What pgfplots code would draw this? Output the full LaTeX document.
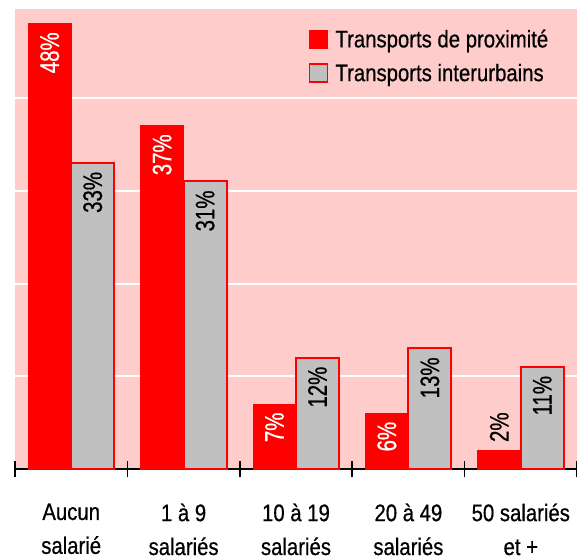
\documentclass[border=0pt]{standalone}
\usepackage{pgfplots}
\pgfplotsset{compat=1.18}
\usepackage{pgfplotstable}
\usepackage{fontspec}
\setmainfont{Liberation Sans}[FakeStretch=0.85, FakeBold=0.6]
\newfontfamily\labfont{Liberation Sans}[FakeStretch=0.76, FakeBold=0.6]

\definecolor{fond}{HTML}{FFCCCC}
\definecolor{rouge}{HTML}{FF0000}
\definecolor{gris}{HTML}{C0C0C0}

% part des entreprises par taille
\pgfplotstableread{
x y
0 48
1 37
2 7
3 6
4 2
}\proxi
\pgfplotstableread{
x y
0 33
1 31
2 12
3 13
4 11
}\inter

\begin{document}
\begin{tikzpicture}
\begin{axis}[
    scale only axis,
    width=562bp, height=460bp,
    xmin=-0.5, xmax=4.5,
    ymin=0, ymax=49.6,
    ybar=0pt, bar width=43bp,
    axis background/.style={fill=fond},
    axis x line*=bottom, axis y line*=left,
    y axis line style={draw=none},
    x axis line style={line width=1.6bp, -},
    ytick={10,20,30,40}, yticklabels={},
    ytick style={draw=none},
    ymajorgrids, grid style={white, line width=2bp},
    xtick={0,...,4},
    major tick length=0pt,
    minor xtick={-0.5,0.5,1.5,2.5,3.5,4.5},
    minor tick length=16bp, tick align=center,
    minor x tick style={black, line width=1.6bp},
    xticklabels={{Aucun\\salarié},{1 à 9\\salariés},{10 à 19\\salariés},{20 à 49\\salariés},{50 salariés\\et +}},
    xticklabel style={align=center, font=\fontsize{24}{34}\selectfont, yshift=-31bp},
    /pgf/number format/assume math mode=true,
    legend style={at={(0.517,0.964)}, anchor=north west, draw=none, fill=none,
        font=\fontsize{24}{26}\selectfont, row sep=11bp, cells={anchor=west}},
    legend cell align=left,
    legend image code/.code={\draw[#1, line width=1.5bp] (0bp,-9bp) rectangle (18bp,9bp); \path (23bp,0bp);},
    nodes near coords={\pgfmathprintnumber{\pgfplotspointmeta}\%},
]
\addplot[fill=rouge, draw=rouge, line width=1pt,
    visualization depends on={y \as \yv},
    nodes near coords style={
        /utils/exec={\pgfmathparse{\yv<5}\ifdim\pgfmathresult pt>0.5pt \def\anc{west}\def\col{black}\else\def\anc{east}\def\col{white}\fi},
        rotate=90, anchor=\anc, text=\col,
        font=\labfont\fontsize{27}{27}\selectfont, inner xsep=8bp}]
    table[x=x, y=y] {\proxi};
\addplot[fill=gris, draw=rouge, line width=2bp,
    nodes near coords style={rotate=90, anchor=east, text=black,
        font=\labfont\fontsize{27}{27}\selectfont, inner xsep=8bp}]
    table[x=x, y=y] {\inter};
\legend{Transports de proximité, Transports interurbains}
\end{axis}
\pgfresetboundingbox
\path[use as bounding box] ([xshift=-15bp,yshift=-91bp]current axis.south west) rectangle ++(577bp,560bp);
\end{tikzpicture}
\end{document}
